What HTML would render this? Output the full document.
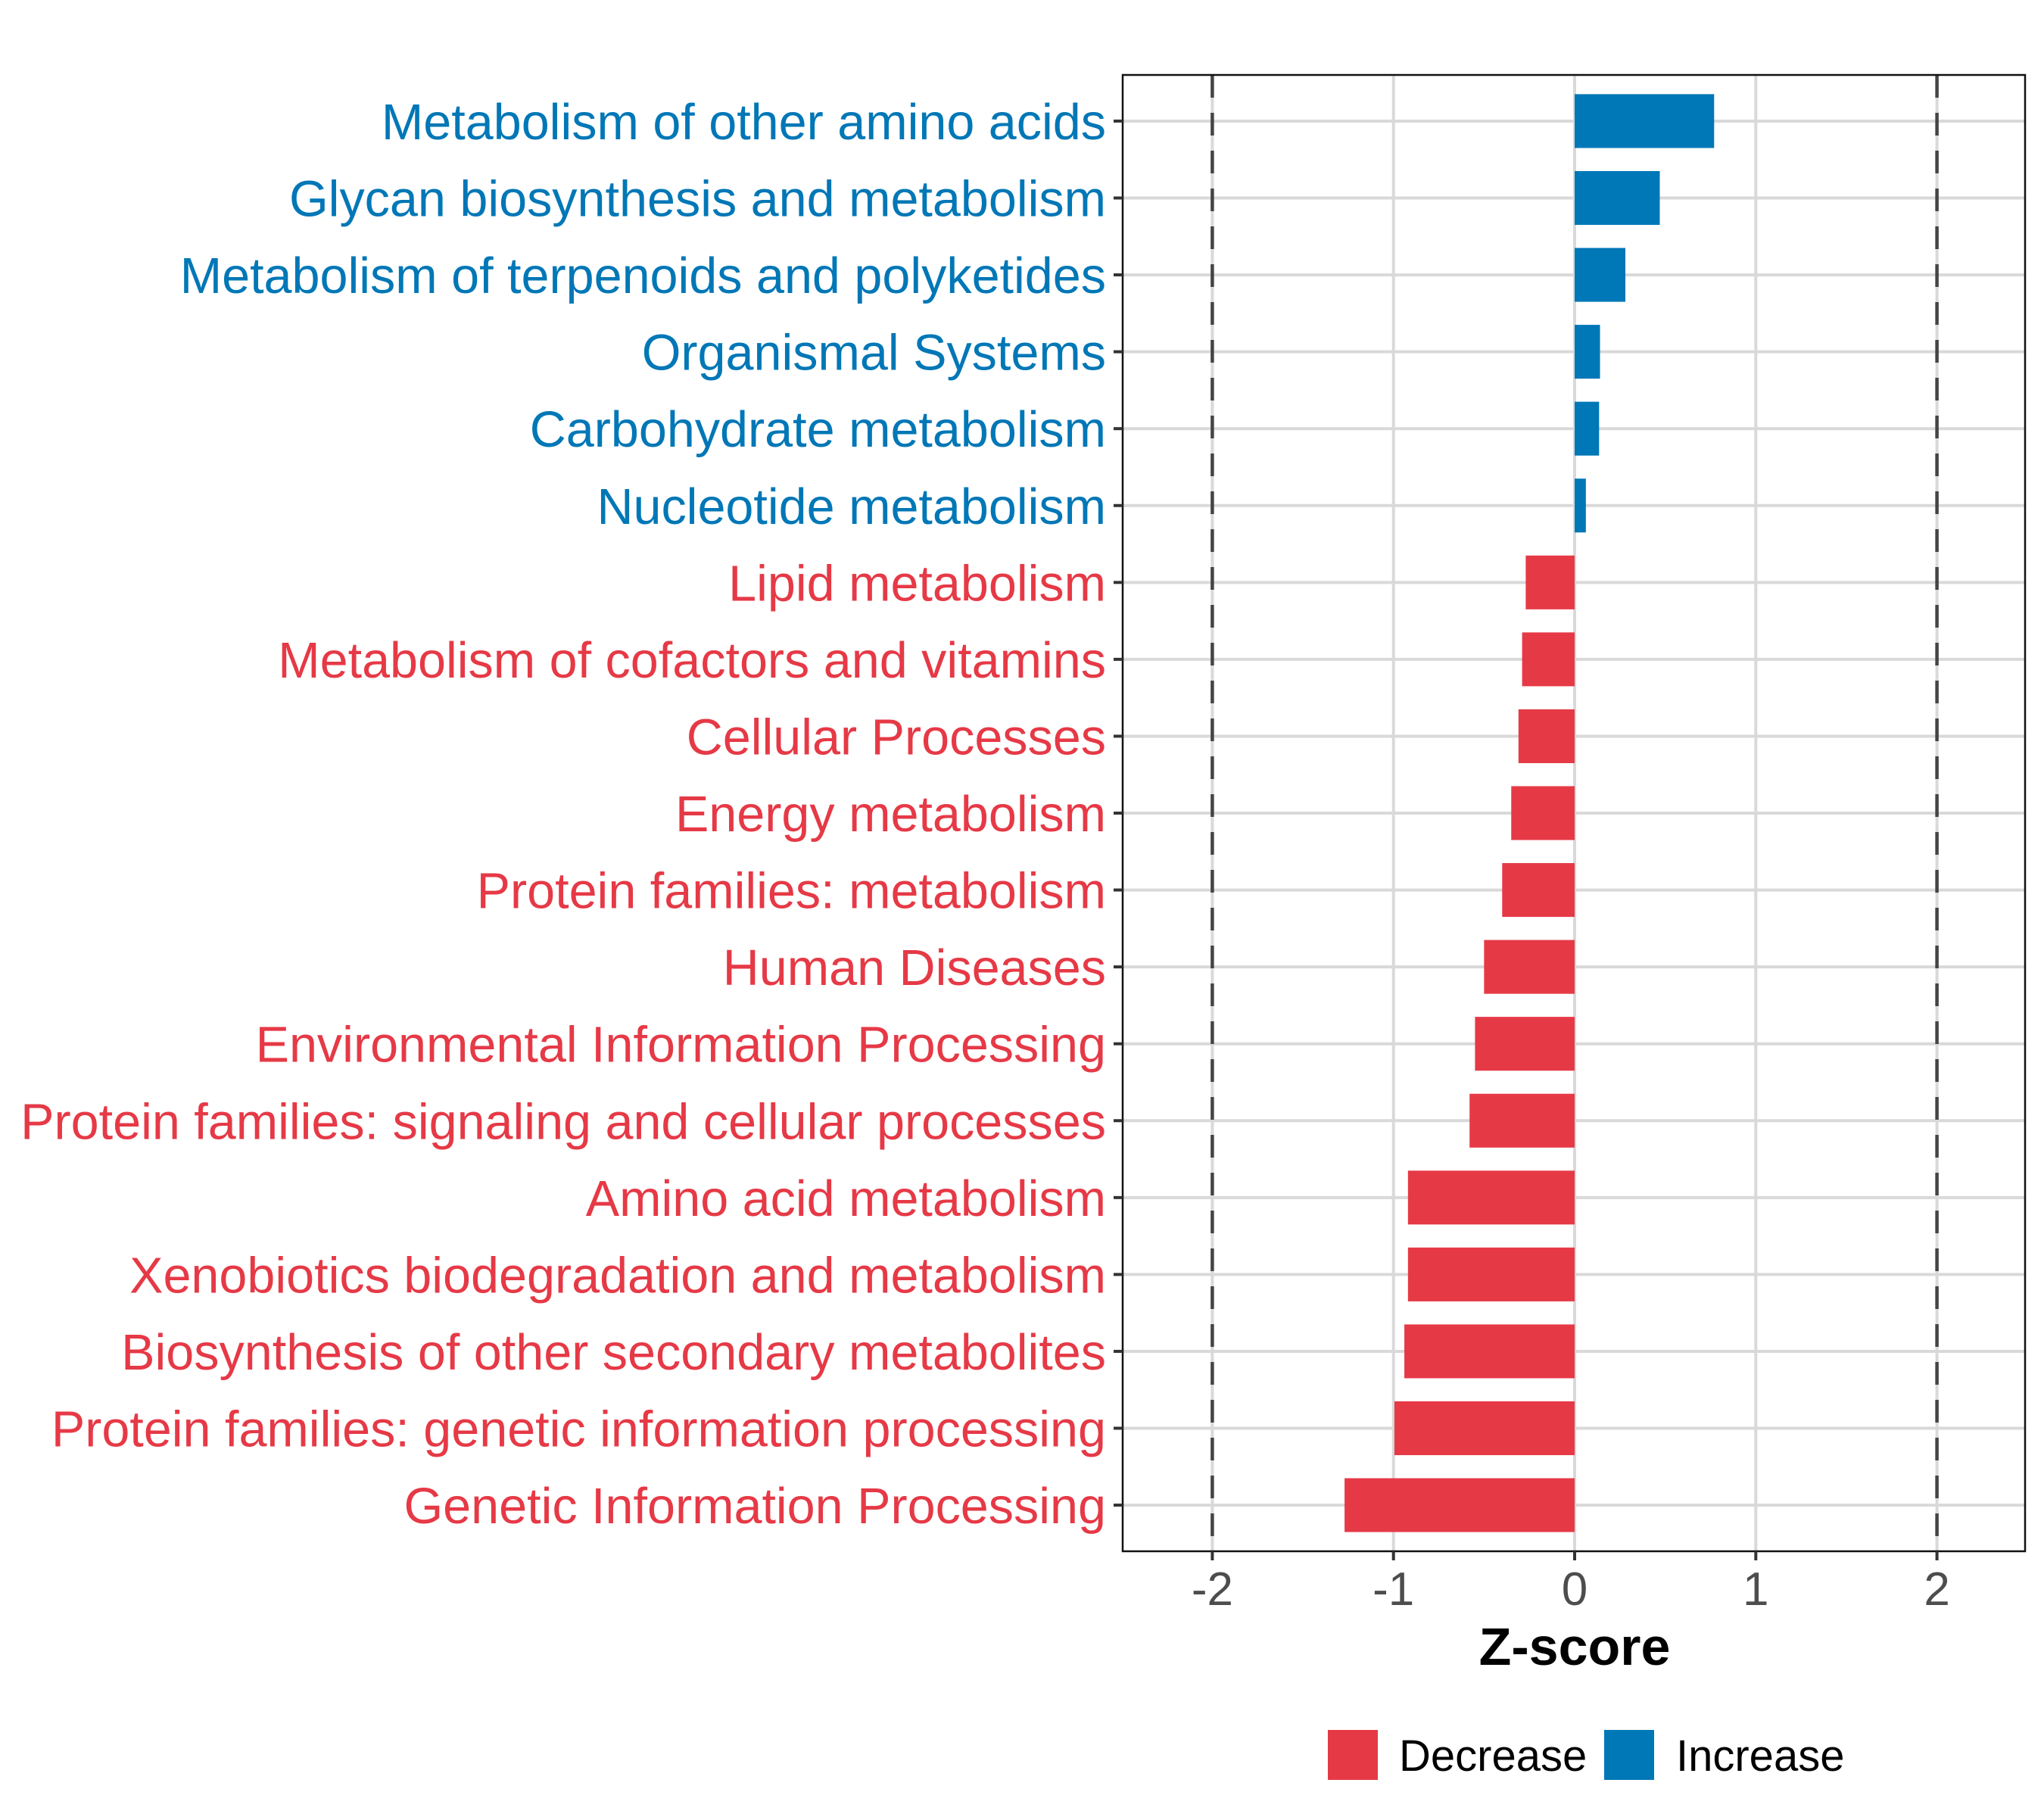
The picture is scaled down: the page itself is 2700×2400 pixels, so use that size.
<!DOCTYPE html>
<html><head><meta charset="utf-8"><style>
html,body{margin:0;padding:0;background:#fff;}
svg{display:block;font-family:"Liberation Sans",Arial,sans-serif;}
</style></head><body>
<svg id="chart" width="2700" height="2400" viewBox="0 0 2700 2400" xmlns="http://www.w3.org/2000/svg">
<rect x="0" y="0" width="2700" height="2400" fill="#fff"/>
<g id="grid"></g>
<g id="bars"></g>
<g id="refs"></g>
<rect x="1483" y="99" width="1192" height="1950" fill="none" stroke="#111" stroke-width="2.5"/>
<g id="ylabels"></g>
<g id="xticks"></g>
<text x="2080" y="2199" text-anchor="middle" font-size="70" font-weight="bold" fill="#000">Z-score</text>
<g>
<rect x="1754" y="2285" width="66" height="66" fill="#E63946"/>
<text x="1848" y="2339" font-size="58" fill="#000">Decrease</text>
<rect x="2119" y="2285" width="66" height="66" fill="#0077B6"/>
<text x="2214" y="2339" font-size="58" fill="#000">Increase</text>
</g>
</svg>
<script>
const categories = ["Metabolism of other amino acids","Glycan biosynthesis and metabolism","Metabolism of terpenoids and polyketides","Organismal Systems","Carbohydrate metabolism","Nucleotide metabolism","Lipid metabolism","Metabolism of cofactors and vitamins","Cellular Processes","Energy metabolism","Protein families: metabolism","Human Diseases","Environmental Information Processing","Protein families: signaling and cellular processes","Amino acid metabolism","Xenobiotics biodegradation and metabolism","Biosynthesis of other secondary metabolites","Protein families: genetic information processing","Genetic Information Processing"];
const zscores = [0.77,0.47,0.28,0.14,0.135,0.062,-0.27,-0.29,-0.31,-0.35,-0.40,-0.50,-0.55,-0.58,-0.92,-0.92,-0.94,-0.995,-1.27];
const xTicks = [-2,-1,0,1,2];
const refLines = [-2,2];

const NS="http://www.w3.org/2000/svg";
const P={l:1483,r:2675,t:99,b:2049};
const x0v=2080, unit=239.3;
const xs=v=>x0v+v*unit;
const n=categories.length;
const band=(P.b-P.t)/(n+0.2);
const ys=i=>P.t+(i+0.6)*band;
function mk(tag,attrs,parent){const e=document.createElementNS(NS,tag);for(const k in attrs)e.setAttribute(k,attrs[k]);parent.appendChild(e);return e;}
const grid=document.getElementById('grid'),bars=document.getElementById('bars'),refs=document.getElementById('refs'),yl=document.getElementById('ylabels'),xt=document.getElementById('xticks');
xTicks.forEach(t=>{
  const g=mk('line',{x1:xs(t),x2:xs(t),y1:P.t,y2:P.b,stroke:'#d9d9d9','stroke-width':4},grid);
  
  
  const tk=mk('line',{x1:xs(t),x2:xs(t),y1:P.b,y2:P.b+12,stroke:'#333','stroke-width':4},xt);
  
  
  const tl=mk('text',{x:xs(t),y:2120,'text-anchor':'middle','font-size':62,fill:'#4d4d4d'},xt);
  tl.textContent=String(t);
  
  
});
const labels=[];
categories.forEach((c,i)=>{
  const y=ys(i);
  const g=mk('line',{x1:P.l,x2:P.r,y1:y,y2:y,stroke:'#d9d9d9','stroke-width':4},grid);
  
  
  const v=zscores[i];
  const col=v>=0?'#0077B6':'#E63946';
  const xa=xs(0),xb=xs(v);
  const b=mk('rect',{x:Math.min(xa,xb),y:y-band*0.35,width:Math.abs(xb-xa),height:band*0.7,fill:col},bars);
  
  
  const tk=mk('line',{x1:P.l-12,x2:P.l,y1:y,y2:y,stroke:'#333','stroke-width':4},yl);
  
  
  const t=mk('text',{x:1461,y:y+24,'text-anchor':'end','font-size':66,fill:col},yl);
  t.textContent=c;
  
  
  labels.push(t);
});
let maxW=0;labels.forEach(t=>{maxW=Math.max(maxW,t.getComputedTextLength());});
if(maxW>0){const fs=66*1434/maxW;labels.forEach(t=>t.setAttribute('font-size',fs.toFixed(2)));}
refLines.forEach(r=>{
  const l=mk('line',{x1:xs(r),x2:xs(r),y1:P.t,y2:P.b,stroke:'#444','stroke-width':4.5,'stroke-dasharray':'30 20'},refs);
  
  
});
</script>
</body></html>
